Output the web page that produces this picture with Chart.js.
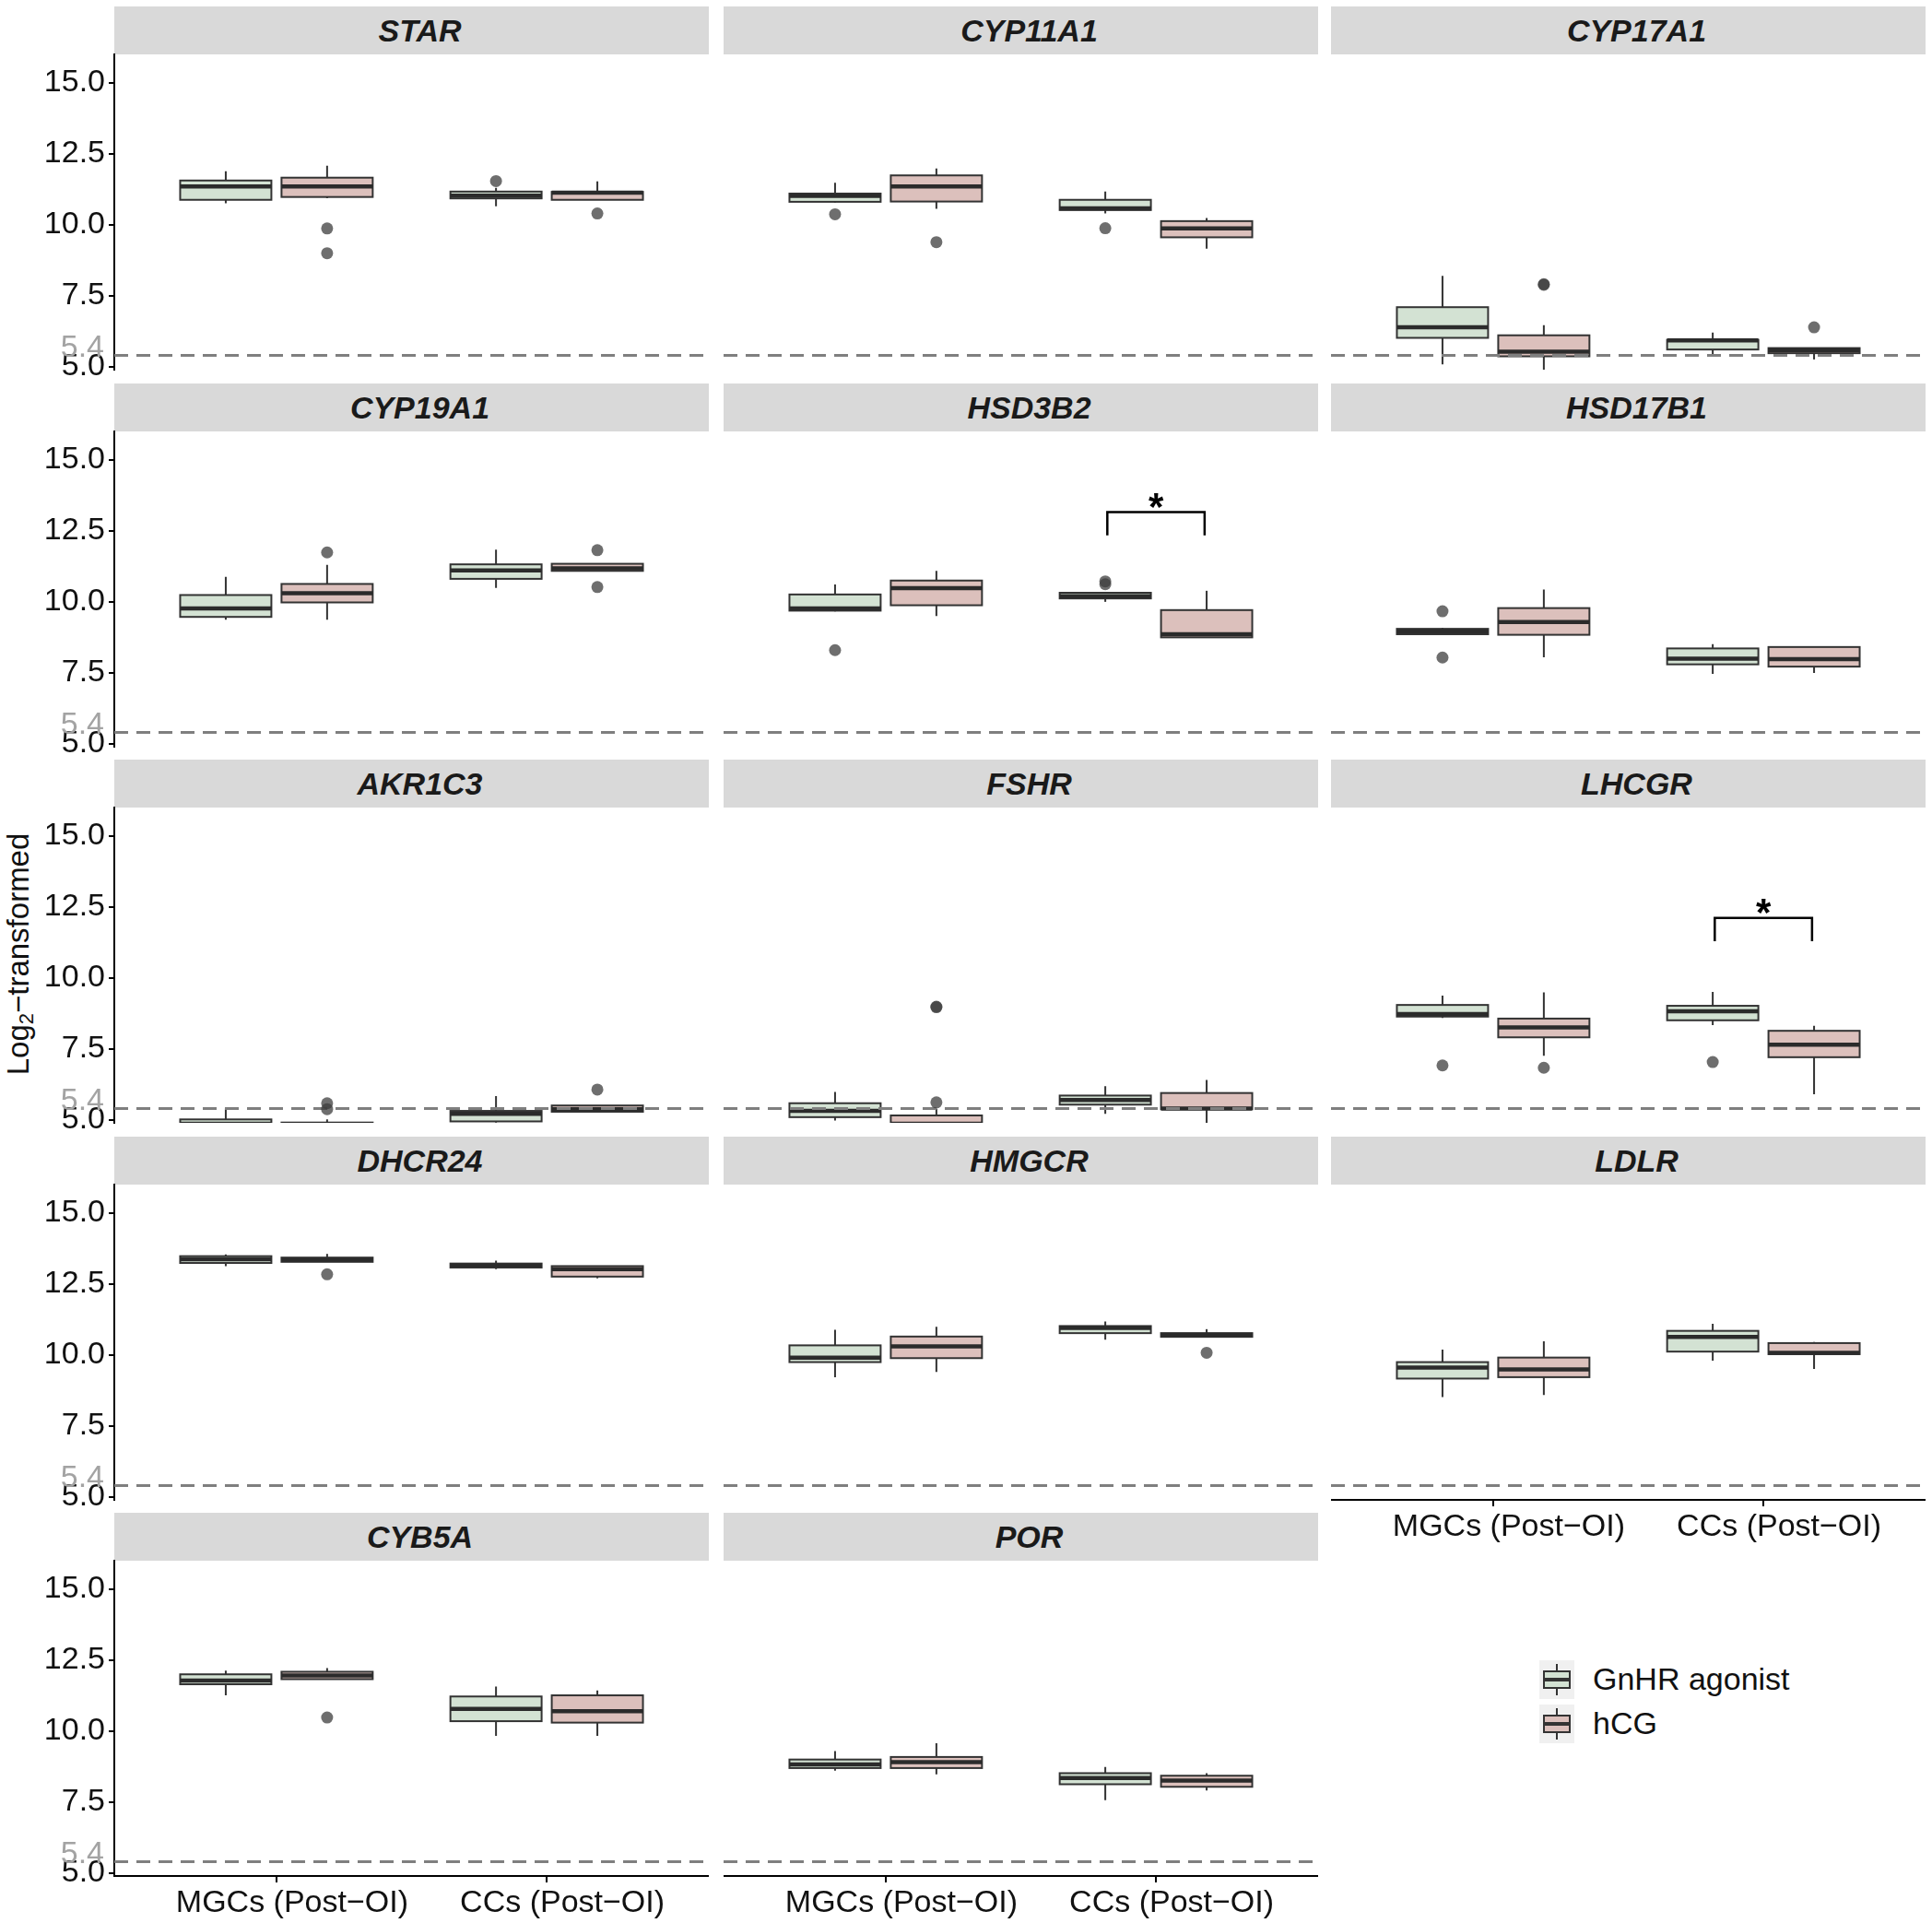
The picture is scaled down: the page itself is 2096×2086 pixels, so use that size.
<!DOCTYPE html>
<html lang="en">
<head>
<meta charset="UTF-8">
<title>Gene expression boxplots</title>
<script src="https://cdn.jsdelivr.net/npm/chart.js"></script>
<style>
  body { margin: 0; background: #fff; width: 2096px; height: 2086px; position: relative; overflow: hidden; font-family: "Liberation Sans", Arial, sans-serif; }
  .strip { position: absolute; background: #d9d9d9; font: italic bold 34px "Liberation Sans", Arial, sans-serif; color: #1a1a1a; display: flex; align-items: center; justify-content: center; box-sizing: border-box; padding-left: 18px; }
  canvas { position: absolute; }
  #ytitle { position: absolute; width: 500px; text-align: center; font-size: 33px; color: #111; transform: rotate(-90deg); white-space: nowrap; }
  #ytitle sub { font-size: 22px; vertical-align: -5px; line-height: 0; }
  .key { position: absolute; width: 38px; height: 42px; background: #f0f0f0; }
  .key .wh { position: absolute; left: 18px; width: 2px; top: 4px; bottom: 4px; background: #333; }
  .key .bx { position: absolute; left: 4px; right: 4px; top: 11px; bottom: 11px; border: 2px solid #333; box-sizing: border-box; }
  .key .md { position: absolute; left: 4px; right: 4px; top: 19px; height: 4px; background: #333; }
  .ktext { position: absolute; font-size: 34px; color: #111; white-space: nowrap; }
</style>
</head>
<body>
<div id="ytitle">Log<sub>2</sub>−transformed</div>
<script>
// facets, x categories, fill groups
const genes = ['STAR', 'CYP11A1', 'CYP17A1', 'CYP19A1', 'HSD3B2', 'HSD17B1', 'AKR1C3', 'FSHR', 'LHCGR', 'DHCR24', 'HMGCR', 'LDLR', 'CYB5A', 'POR'];
const groups = ['MGCs (Post−OI)', 'CCs (Post−OI)'];
const treatments = ['GnHR agonist', 'hCG'];
const yTicks = [5.0, 7.5, 10.0, 12.5, 15.0];
const cutoff = 5.4;

// per gene: [MGCs GnHR, MGCs hCG, CCs GnHR, CCs hCG]
const whiskLo = [
  [10.76, 10.94, 10.65, 10.88], [10.78, 10.56, 10.40, 9.16], [5.09, 4.90, 5.39, 5.26],
  [9.37, 9.37, 10.49, 11.09], [9.66, 9.50, 10.00, 8.75], [8.86, 8.05, 7.46, 7.50],
  [4.80, 4.80, 4.91, 5.29], [4.98, 4.80, 5.22, 4.89], [8.59, 7.26, 8.34, 5.91],
  [13.13, 13.28, 13.02, 12.70], [9.22, 9.40, 10.54, 10.64], [8.52, 8.59, 9.80, 9.51],
  [11.26, 11.83, 9.83, 9.83], [8.61, 8.48, 7.57, 7.91]
];
const q1 = [
  [10.88, 10.98, 10.93, 10.88], [10.81, 10.82, 10.52, 9.56], [6.02, 5.37, 5.61, 5.48],
  [9.47, 9.98, 10.81, 11.09], [9.69, 9.88, 10.12, 8.75], [8.86, 8.84, 7.80, 7.72],
  [4.85, 4.82, 4.95, 5.29], [5.10, 4.85, 5.54, 5.38], [8.64, 7.91, 8.51, 7.21],
  [13.24, 13.28, 13.08, 12.76], [9.75, 9.89, 10.77, 10.64], [9.17, 9.22, 10.12, 10.03],
  [11.65, 11.83, 10.35, 10.30], [8.70, 8.70, 8.13, 8.04]
];
const median = [
  [11.35, 11.35, 11.03, 11.13], [11.02, 11.35, 10.58, 9.87], [6.39, 5.53, 5.93, 5.59],
  [9.77, 10.30, 11.11, 11.18], [9.77, 10.48, 10.20, 8.86], [8.96, 9.29, 8.00, 7.98],
  [4.87, 4.84, 5.22, 5.38], [5.32, 4.87, 5.70, 5.40], [8.73, 8.26, 8.83, 7.65],
  [13.37, 13.35, 13.15, 13.02], [9.91, 10.30, 10.95, 10.71], [9.56, 9.49, 10.64, 10.08],
  [11.78, 11.96, 10.78, 10.70], [8.83, 8.91, 8.35, 8.26]
];
const q3 = [
  [11.56, 11.66, 11.17, 11.16], [11.10, 11.74, 10.88, 10.13], [7.10, 6.11, 5.95, 5.66],
  [10.24, 10.63, 11.32, 11.34], [10.26, 10.75, 10.32, 9.71], [9.05, 9.78, 8.36, 8.41],
  [5.02, 4.91, 5.32, 5.51], [5.59, 5.16, 5.86, 5.95], [9.05, 8.57, 9.02, 8.14],
  [13.48, 13.43, 13.22, 13.13], [10.34, 10.65, 11.02, 10.77], [9.75, 9.91, 10.85, 10.42],
  [12.00, 12.09, 11.22, 11.26], [9.00, 9.09, 8.52, 8.43]
];
const whiskHi = [
  [11.89, 12.08, 11.30, 11.53], [11.48, 11.98, 11.17, 10.24], [8.20, 6.47, 6.21, 5.66],
  [10.88, 11.30, 11.84, 11.34], [10.61, 11.09, 10.32, 10.39], [9.08, 10.43, 8.51, 8.43],
  [5.40, 5.02, 5.84, 5.51], [5.99, 5.40, 6.19, 6.41], [9.38, 9.49, 9.51, 8.32],
  [13.54, 13.56, 13.32, 13.13], [10.89, 10.99, 11.18, 10.91], [10.19, 10.48, 11.10, 10.46],
  [12.13, 12.22, 11.57, 11.43], [9.30, 9.57, 8.74, 8.52]
];
const outliers = [
  [[], [9.87, 9.00], [11.54], [10.40]], [[10.37], [9.39], [9.88], []], [[], [7.91, 7.89], [], [6.39]],
  [[], [11.74], [], [11.82, 10.52]], [[8.30], [], [10.72, 10.62], []], [[9.67, 8.04], [], [], []],
  [[], [5.59, 5.38], [], [6.07]], [[], [8.97, 8.99, 5.62], [], []], [[6.92], [6.84], [7.04], []],
  [[], [12.84], [], []], [[], [], [], [10.08]], [[], [], [], []],
  [[], [10.48], [], []], [[], [], [], []]
];
// significance brackets (CCs group)
const sigGenes = ['HSD3B2', 'LHCGR'];
const sigGroup = [1, 1];
const sigTop = [13.16, 12.11];
const sigLeg = [12.34, 11.29];
const sigLabel = ['*', '*'];

const fills = ['#d3e2d3', '#dcc0bc'];
const edge = '#333333';
const FONT = "'Liberation Sans', Arial, sans-serif";
Chart.defaults.font.family = FONT;

// layout
const colLeft = [124, 785, 1444], panelW = 645;
const rowTop0 = 7, rowPitch = 408.6, stripH = 52, plotH = 342;
const yAxisW = 84, xAxisH = 54, padV = 28;
const dodge = 0.1875, halfW = 0.16875;

const boxPlugin = {
  id: 'boxes',
  beforeDatasetsDraw(chart, args, opts) {
    const g = opts.gene;
    const { ctx, chartArea: a, scales: { x, y } } = chart;
    const hw = x.getPixelForValue(halfW) - x.getPixelForValue(0);
    ctx.save();
    ctx.beginPath();
    ctx.rect(a.left, a.top, a.right - a.left, a.bottom - a.top);
    ctx.clip();
    for (let k = 0; k < 4; k++) {
      const xc = x.getPixelForValue((k >> 1) + 1 + (k % 2 ? dodge : -dodge));
      const yLo = y.getPixelForValue(whiskLo[g][k]), yQ1 = y.getPixelForValue(q1[g][k]);
      const yMd = y.getPixelForValue(median[g][k]), yQ3 = y.getPixelForValue(q3[g][k]);
      const yHi = y.getPixelForValue(whiskHi[g][k]);
      ctx.strokeStyle = edge;
      ctx.lineWidth = 2;
      ctx.beginPath();
      ctx.moveTo(xc, yLo); ctx.lineTo(xc, yQ1);
      ctx.moveTo(xc, yQ3); ctx.lineTo(xc, yHi);
      ctx.stroke();
      ctx.fillStyle = fills[k % 2];
      ctx.fillRect(xc - hw, yQ3, 2 * hw, yQ1 - yQ3);
      ctx.strokeRect(xc - hw, yQ3, 2 * hw, yQ1 - yQ3);
      ctx.lineWidth = 4.5;
      ctx.strokeStyle = '#2b2b2b';
      ctx.beginPath();
      ctx.moveTo(xc - hw, yMd); ctx.lineTo(xc + hw, yMd);
      ctx.stroke();
    }
    ctx.restore();
  },
  afterDatasetsDraw(chart, args, opts) {
    const { ctx, scales: { x, y } } = chart;
    const s = sigGenes.indexOf(genes[opts.gene]);
    if (s >= 0) {
      const cat = sigGroup[s] + 1;
      const x1 = x.getPixelForValue(cat - 0.18), x2 = x.getPixelForValue(cat + 0.18);
      const yt = y.getPixelForValue(sigTop[s]), yl = y.getPixelForValue(sigLeg[s]);
      ctx.save();
      ctx.strokeStyle = '#000';
      ctx.lineWidth = 2.5;
      ctx.beginPath();
      ctx.moveTo(x1, yl); ctx.lineTo(x1, yt); ctx.lineTo(x2, yt); ctx.lineTo(x2, yl);
      ctx.stroke();
      ctx.fillStyle = '#000';
      ctx.font = 'bold 42px ' + FONT;
      ctx.textAlign = 'center';
      ctx.textBaseline = 'alphabetic';
      ctx.fillText(sigLabel[s], (x1 + x2) / 2, yt + 8);
      ctx.restore();
    }
    if (opts.left) {
      const a = chart.chartArea;
      ctx.save();
      ctx.fillStyle = '#a3a3a3';
      ctx.font = '34px ' + FONT;
      ctx.textAlign = 'right';
      ctx.textBaseline = 'alphabetic';
      ctx.fillText(cutoff.toFixed(1), a.left - 11, y.getPixelForValue(cutoff) + 1);
      ctx.restore();
    }
  }
};

genes.forEach((gene, g) => {
  const r = Math.floor(g / 3), c = g % 3;
  const isLeft = c === 0;
  const isBottom = r === 4 || (r === 3 && c === 2);
  const stripTop = Math.round(rowTop0 + r * rowPitch);

  const strip = document.createElement('div');
  strip.className = 'strip';
  strip.style.left = colLeft[c] + 'px';
  strip.style.top = stripTop + 'px';
  strip.style.width = panelW + 'px';
  strip.style.height = stripH + 'px';
  strip.textContent = gene;
  document.body.appendChild(strip);

  const padTop = isLeft ? padV : 0;
  const padBot = isLeft && !isBottom ? padV : 0;
  const cv = document.createElement('canvas');
  const w = panelW + (isLeft ? yAxisW : 0);
  const h = padTop + plotH + (isBottom ? xAxisH : padBot);
  cv.width = w; cv.height = h;
  cv.style.width = w + 'px'; cv.style.height = h + 'px';
  cv.style.left = (colLeft[c] - (isLeft ? yAxisW : 0)) + 'px';
  cv.style.top = (stripTop + stripH - padTop) + 'px';
  document.body.appendChild(cv);

  const pts = [];
  outliers[g].forEach((vals, k) => vals.forEach(v => pts.push({ x: (k >> 1) + 1 + (k % 2 ? dodge : -dodge), y: v })));

  new Chart(cv.getContext('2d'), {
    type: 'scatter',
    data: {
      datasets: [
        { data: pts, pointRadius: 6.5, pointBackgroundColor: 'rgba(62,62,62,0.75)', pointBorderWidth: 0 },
        { type: 'line', data: [{ x: 0.4, y: cutoff }, { x: 2.6, y: cutoff }], borderColor: '#7f7f7f', borderWidth: 3, borderDash: [15, 9], pointRadius: 0 }
      ]
    },
    options: {
      responsive: false, animation: false, events: [],
      layout: { autoPadding: false, padding: { top: padTop, left: 0, right: 0, bottom: padBot } },
      plugins: { legend: { display: false }, tooltip: { enabled: false }, boxes: { gene: g, left: isLeft } },
      scales: {
        x: {
          type: 'linear', min: 0.4, max: 2.6, display: isBottom,
          afterBuildTicks: s => { s.ticks = [{ value: 1 }, { value: 2 }]; },
          afterFit: s => { if (isBottom) s.height = xAxisH; },
          ticks: { callback: (v, i) => groups[i], font: { size: 34 }, color: '#111', maxRotation: 0, autoSkip: false, labelOffset: 17, padding: 2 },
          grid: { drawOnChartArea: false, drawTicks: true, tickLength: 7, color: '#000', lineWidth: 2 },
          border: { display: true, color: '#000', width: 2 }
        },
        y: {
          min: 4.9, max: 16.0, display: isLeft,
          afterBuildTicks: s => { s.ticks = yTicks.map(v => ({ value: v })); },
          afterFit: s => { if (isLeft) s.width = yAxisW; },
          ticks: { callback: v => v.toFixed(1), font: { size: 34 }, color: '#111', padding: 4, autoSkip: false },
          grid: { drawOnChartArea: false, drawTicks: true, tickLength: 6, color: '#000', lineWidth: 2 },
          border: { display: true, color: '#000', width: 2 }
        }
      }
    },
    plugins: [boxPlugin]
  });
});

// y title
const yt = document.getElementById('ytitle');
yt.style.left = (20 - 250) + 'px';
yt.style.top = (1035 - 19) + 'px';

// legend
const keyX = 1670, keyY = [1801, 1849];
treatments.forEach((t, i) => {
  const k = document.createElement('div');
  k.className = 'key';
  k.style.left = keyX + 'px';
  k.style.top = keyY[i] + 'px';
  k.innerHTML = '<div class="wh"></div><div class="bx" style="background:' + fills[i] + '"></div><div class="md"></div>';
  document.body.appendChild(k);
  const tx = document.createElement('div');
  tx.className = 'ktext';
  tx.style.left = (keyX + 58) + 'px';
  tx.style.top = (keyY[i] + 1) + 'px';
  tx.textContent = t;
  document.body.appendChild(tx);
});
</script>
</body>
</html>
